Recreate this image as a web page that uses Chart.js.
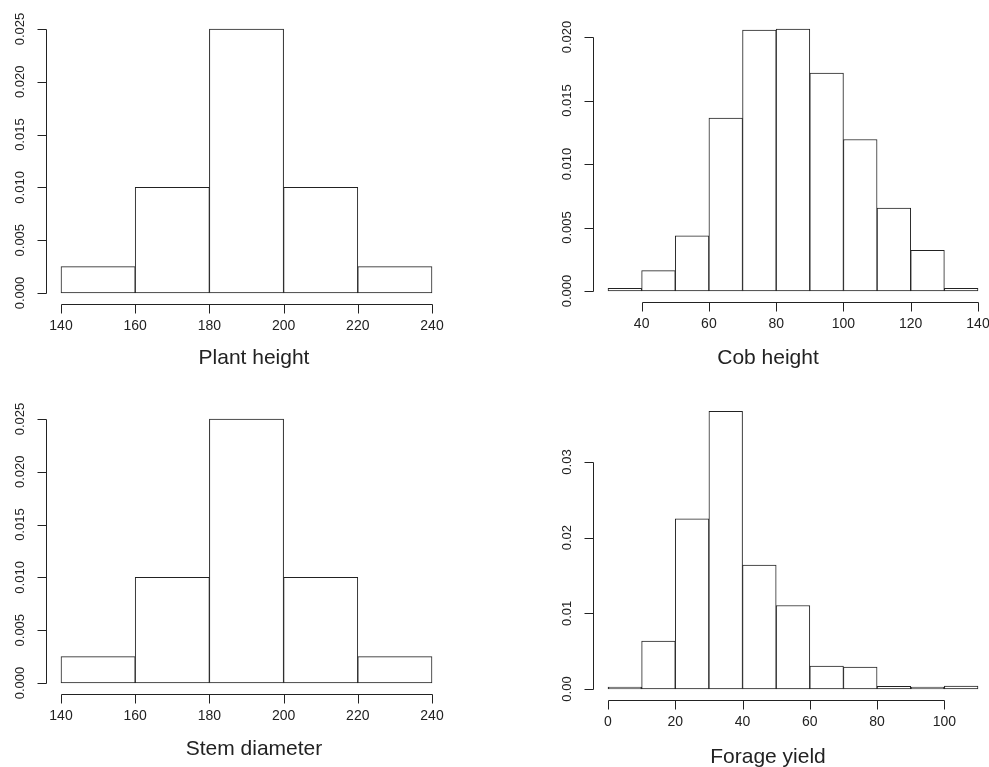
<!DOCTYPE html>
<html>
<head>
<meta charset="utf-8">
<script src="https://cdn.jsdelivr.net/npm/chart.js@4.4.0/dist/chart.umd.min.js"></script>
<style>
  html, body { margin: 0; padding: 0; background: #fff; }
  #wrap { position: relative; width: 989px; height: 767px; overflow: hidden; }
  canvas { position: absolute; }
</style>
</head>
<body>
<div id="wrap">
  <canvas id="c1"></canvas>
  <canvas id="c2"></canvas>
  <canvas id="c3"></canvas>
  <canvas id="c4"></canvas>
</div>
<script>
// histogram data (bin edges + density per bin)
const plantEdges = [140, 160, 180, 200, 220, 240];
const plantDensity = [0.0025, 0.010, 0.025, 0.010, 0.0025];
const plantXTicks = [140, 160, 180, 200, 220, 240];
const plantYTicks = [0, 0.005, 0.010, 0.015, 0.020, 0.025];

const cobEdges = [30, 40, 50, 60, 70, 80, 90, 100, 110, 120, 130, 140];
const cobDensity = [0.00022, 0.0016, 0.00434, 0.01361, 0.02055, 0.02063, 0.01716, 0.01193, 0.00652, 0.00321, 0.00022];
const cobXTicks = [40, 60, 80, 100, 120, 140];
const cobYTicks = [0, 0.005, 0.010, 0.015, 0.020];

const stemEdges = [140, 160, 180, 200, 220, 240];
const stemDensity = [0.0025, 0.010, 0.025, 0.010, 0.0025];
const stemXTicks = [140, 160, 180, 200, 220, 240];
const stemYTicks = [0, 0.005, 0.010, 0.015, 0.020, 0.025];

const forageEdges = [0, 10, 20, 30, 40, 50, 60, 70, 80, 90, 100, 110];
const forageDensity = [0.00026, 0.00633, 0.02248, 0.03669, 0.01637, 0.01104, 0.00304, 0.0029, 0.00035, 0.00026, 0.0004];
const forageXTicks = [0, 20, 40, 60, 80, 100];
const forageYTicks = [0, 0.01, 0.02, 0.03];

const ink = '#222';
const fontName = "'Liberation Sans', Arial, sans-serif";

// page layout of each panel: canvas box, plot box, title centre
const panels = [
  { id: 'c1', title: 'Plant height', edges: plantEdges, dens: plantDensity, xt: plantXTicks, yt: plantYTicks, ydec: 3,
    box: { l: 0, t: 0, w: 494, h: 384 }, area: { left: 61, right: 432, top: 29, bottom: 293 }, yMax: 0.025, tx: 254, ty: 358 },
  { id: 'c2', title: 'Cob height', edges: cobEdges, dens: cobDensity, xt: cobXTicks, yt: cobYTicks, ydec: 3,
    box: { l: 494, t: 0, w: 495, h: 384 }, area: { left: 608, right: 978, top: 37, bottom: 291 }, yMax: 0.020, tx: 768, ty: 358 },
  { id: 'c3', title: 'Stem diameter', edges: stemEdges, dens: stemDensity, xt: stemXTicks, yt: stemYTicks, ydec: 3,
    box: { l: 0, t: 384, w: 494, h: 383 }, area: { left: 61, right: 432, top: 419, bottom: 683 }, yMax: 0.025, tx: 254, ty: 749 },
  { id: 'c4', title: 'Forage yield', edges: forageEdges, dens: forageDensity, xt: forageXTicks, yt: forageYTicks, ydec: 2,
    box: { l: 494, t: 384, w: 495, h: 383 }, area: { left: 608, right: 978, top: 462, bottom: 689 }, yMax: 0.03, tx: 768, ty: 757 }
];

// R style detached axes, drawn from the chart's own scales
const rAxes = {
  id: 'rAxes',
  afterDraw(chart, args, opts) {
    const ctx = chart.ctx;
    const x = chart.scales.x, y = chart.scales.y;
    const ca = chart.chartArea;
    const ax = Math.round(ca.left - 15) + 0.5;
    const ay = Math.round(ca.bottom + 11) + 0.5;
    ctx.save();
    ctx.strokeStyle = ink;
    ctx.fillStyle = ink;
    ctx.lineWidth = 1;

    // y axis
    const yt = opts.yt;
    const yTop = Math.round(y.getPixelForValue(yt[yt.length - 1])) + 0.5;
    const yBot = Math.round(y.getPixelForValue(yt[0])) + 0.5;
    ctx.beginPath();
    ctx.moveTo(ax, yTop); ctx.lineTo(ax, yBot);
    yt.forEach(v => {
      const py = Math.round(y.getPixelForValue(v)) + 0.5;
      ctx.moveTo(ax, py); ctx.lineTo(ax - 9, py);
    });
    ctx.stroke();
    ctx.font = '13px ' + fontName;
    ctx.textAlign = 'center';
    ctx.textBaseline = 'middle';
    yt.forEach(v => {
      const py = y.getPixelForValue(v);
      ctx.save();
      ctx.translate(ax - 26, py);
      ctx.rotate(-Math.PI / 2);
      ctx.fillText(v.toFixed(opts.ydec), 0, 0);
      ctx.restore();
    });

    // x axis
    const xt = opts.xt;
    const xL = Math.round(x.getPixelForValue(xt[0])) + 0.5;
    const xR = Math.round(x.getPixelForValue(xt[xt.length - 1])) + 0.5;
    ctx.beginPath();
    ctx.moveTo(xL, ay); ctx.lineTo(xR, ay);
    xt.forEach(v => {
      const px = Math.round(x.getPixelForValue(v)) + 0.5;
      ctx.moveTo(px, ay); ctx.lineTo(px, ay + 9);
    });
    ctx.stroke();
    ctx.font = '14px ' + fontName;
    xt.forEach(v => {
      ctx.fillText(String(v), x.getPixelForValue(v), ay + 22);
    });

    // axis title
    ctx.font = '21px ' + fontName;
    ctx.fillText(opts.title, opts.tx, opts.ty);
    ctx.restore();
  }
};

panels.forEach(p => {
  const cv = document.getElementById(p.id);
  cv.width = p.box.w;
  cv.height = p.box.h;
  cv.style.left = p.box.l + 'px';
  cv.style.top = p.box.t + 'px';
  cv.style.width = p.box.w + 'px';
  cv.style.height = p.box.h + 'px';

  const bins = p.dens.map((d, i) => ({ x: (p.edges[i] + p.edges[i + 1]) / 2, y: d }));

  new Chart(cv.getContext('2d'), {
    type: 'bar',
    data: {
      datasets: [{
        data: bins,
        backgroundColor: '#fff',
        borderColor: ink,
        borderWidth: 1,
        borderSkipped: false,
        barPercentage: 1,
        categoryPercentage: 1,
        clip: false
      }]
    },
    options: {
      responsive: false,
      animation: false,
      devicePixelRatio: 1,
      layout: {
        padding: {
          left: p.area.left - p.box.l,
          right: p.box.l + p.box.w - p.area.right,
          top: p.area.top - p.box.t,
          bottom: p.box.t + p.box.h - p.area.bottom
        }
      },
      scales: {
        x: { type: 'linear', display: false, offset: false, min: p.edges[0], max: p.edges[p.edges.length - 1] },
        y: { display: false, min: 0, max: p.yMax }
      },
      plugins: {
        legend: { display: false },
        tooltip: { enabled: false },
        rAxes: { xt: p.xt, yt: p.yt, ydec: p.ydec, title: p.title, tx: p.tx - p.box.l, ty: p.ty - p.box.t }
      }
    },
    plugins: [rAxes]
  });
});
</script>
</body>
</html>
